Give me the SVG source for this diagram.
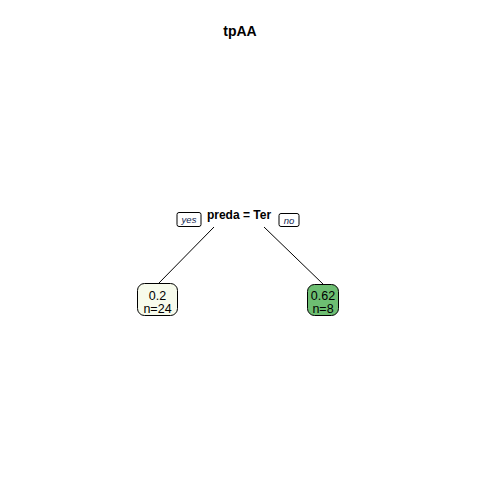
<svg xmlns="http://www.w3.org/2000/svg" width="480" height="480" viewBox="0 0 480 480">
<style>
.t{font-family:"Liberation Sans",Arial,sans-serif;fill:#000}
.b{font-weight:bold}
.lab{font-family:"Liberation Sans",Arial,sans-serif;font-style:italic;font-size:9.5px;fill:#0F2350}
.lb{fill:#fff;stroke:#000;stroke-width:1}
.e{stroke:#000;stroke-width:1;fill:none}
.n{stroke:#000;stroke-width:1}
</style>
<rect width="480" height="480" fill="#fff"/>
<text class="t b" x="240" y="36" font-size="14" text-anchor="middle">tpAA</text>
<g id="connectors">
<line class="e" x1="214" y1="227" x2="158" y2="284"/>
<line class="e" x1="264" y1="227" x2="324" y2="285"/>
</g>
<g id="root">
<text class="t b" x="239" y="219" font-size="12" text-anchor="middle">preda = Ter</text>
<rect class="lb" x="177" y="212.5" width="24" height="14" rx="2"/>
<text class="lab" x="189" y="223" text-anchor="middle">yes</text>
<rect class="lb" x="279" y="213.5" width="20" height="13" rx="2"/>
<text class="lab" x="289" y="223.5" text-anchor="middle">no</text>
</g>
<g id="leaf1">
<rect class="n" x="137.5" y="283.5" width="40" height="32" rx="7" fill="#F7FBEC"/>
<text class="t" x="157.5" y="300" font-size="12.5" text-anchor="middle">0.2</text>
<text class="t" x="157.5" y="313" font-size="12.5" text-anchor="middle">n=24</text>
</g>
<g id="leaf2">
<rect class="n" x="307.5" y="284.5" width="31" height="31" rx="7" fill="#6DBE72"/>
<text class="t" x="323" y="300" font-size="12.5" text-anchor="middle">0.62</text>
<text class="t" x="323" y="313" font-size="12.5" text-anchor="middle">n=8</text>
</g>
</svg>
